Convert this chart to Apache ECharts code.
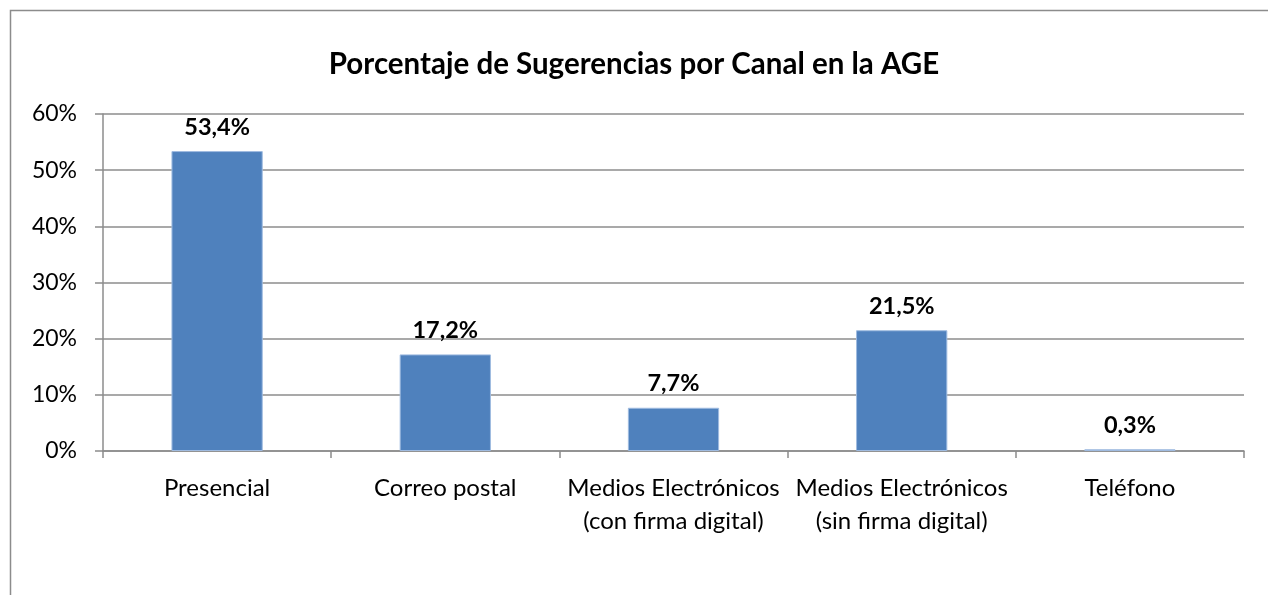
<!DOCTYPE html>
<html><head><meta charset="utf-8">
<script src="https://cdn.jsdelivr.net/npm/echarts@6/dist/echarts.min.js"></script>
<style>html,body{margin:0;padding:0;background:#fff}#c{width:1268px;height:595px}</style>
</head><body><div id="c"></div>
<script>
const categories = ['Presencial','Correo postal','Medios Electrónicos\n(con firma digital)','Medios Electrónicos\n(sin firma digital)','Teléfono'];
const values = [53.4, 17.2, 7.7, 21.5, 0.3];
const yTicks = [0, 10, 20, 30, 40, 50, 60];
const titleText = 'Porcentaje de Sugerencias por Canal en la AGE';

const FONT = 'Lato, "Open Sans", sans-serif';
const chart = echarts.init(document.getElementById('c'), null, {renderer:'canvas'});
chart.setOption({
  animation:false,
  backgroundColor:'#fff',
  title:{text:titleText,left:'center',top:44,textStyle:{fontFamily:FONT,fontWeight:'bold',fontSize:29.5,color:'#000'}},
  graphic:[{type:'rect',shape:{x:10.5,y:10.5,width:1400,height:800},style:{fill:'none',stroke:'#8c8c8c',lineWidth:1.5},silent:true}],
  grid:{left:103,right:24,top:114,bottom:144,containLabel:false},
  xAxis:{type:'category',data:categories,
    axisLine:{show:true,lineStyle:{color:'#8c8c8c',width:1.5}},
    axisTick:{show:true,alignWithLabel:false,length:7,lineStyle:{color:'#8c8c8c',width:1.5}},
    axisLabel:{interval:0,fontFamily:FONT,fontSize:24,color:'#000',margin:21,lineHeight:33}},
  yAxis:{type:'value',min:yTicks[0],max:yTicks[yTicks.length-1],interval:10,
    axisLine:{show:true,lineStyle:{color:'#8c8c8c',width:1.5}},
    axisTick:{show:true,length:8,lineStyle:{color:'#8c8c8c',width:1.5}},
    splitLine:{show:true,lineStyle:{color:'#8c8c8c',width:1.5}},
    axisLabel:{formatter:'{value}%',fontFamily:FONT,fontSize:23,color:'#000',margin:26}},
  series:[{type:'bar',data:values,barWidth:'40%',
    itemStyle:{color:'#4f81bd',borderColor:'#9fbbe0',borderWidth:1},
    label:{show:true,position:'top',distance:12,fontFamily:FONT,fontWeight:'bold',fontSize:23.5,color:'#000',
      formatter:p=>p.value.toFixed(1).replace('.',',')+'%'}}]
});
</script></body></html>
